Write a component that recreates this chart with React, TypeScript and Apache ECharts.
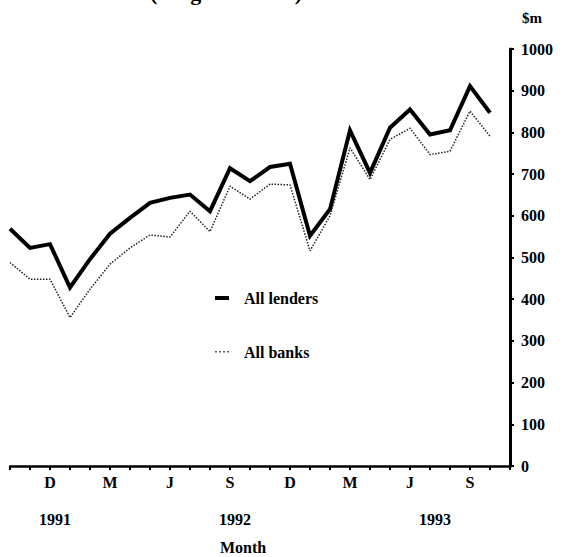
import React, { useEffect, useRef } from "react";
import * as echarts from "echarts";

const months = [
  "Oct 1991", "Nov 1991", "Dec 1991",
  "Jan 1992", "Feb 1992", "Mar 1992", "Apr 1992", "May 1992", "Jun 1992",
  "Jul 1992", "Aug 1992", "Sep 1992", "Oct 1992", "Nov 1992", "Dec 1992",
  "Jan 1993", "Feb 1993", "Mar 1993", "Apr 1993", "May 1993", "Jun 1993",
  "Jul 1993", "Aug 1993", "Sep 1993", "Oct 1993", "Nov 1993",
];
const monthTickLetters: Record<string, string> = { Dec: "D", Mar: "M", Jun: "J", Sep: "S" };

const allLenders = [
  569, 523, 532, 428, 496, 557, 595, 631, 643, 651, 611, 714, 683, 717, 725,
  552, 616, 805, 703, 811, 855, 795, 805, 911, 847,
];
const allBanks = [
  488, 448, 448, 356, 424, 484, 523, 554, 549, 611, 562, 671, 640, 676, 674,
  516, 600, 763, 687, 783, 810, 747, 755, 851, 791,
];

const yearLabels = ["1991", "1992", "1993"];
const yearAnchors = ["Dec 1991", "Sep 1992", "Jul 1993"];

const FONT = "Liberation Serif";

export default function App() {
  const ref = useRef<HTMLDivElement>(null);
  useEffect(() => {
    document.body.style.margin = "0";
    const chart = echarts.init(ref.current!, null, { renderer: "svg" });
    const option: any = {
      animation: false,
      backgroundColor: "#fff",
      textStyle: { fontFamily: FONT, color: "#000" },
      grid: { left: 10, right: 74, top: 49, bottom: 91, containLabel: false },
      legend: {
        orient: "vertical",
        left: 210,
        top: 285,
        itemGap: 38,
        itemWidth: 14,
        itemHeight: 4,
        textStyle: { fontFamily: FONT, fontSize: 16, fontWeight: "bold", color: "#000", padding: [0, 0, 0, 10] },
        data: [
          { name: "All lenders", icon: "rect", itemStyle: { color: "#000" } },
          {
            name: "All banks",
            icon: "path://M0,1h1.6v1.6h-1.6z M4,1h1.6v1.6h-1.6z M8,1h1.6v1.6h-1.6z M12,1h1.6v1.6h-1.6z M0,0h0.01v4h-0.01z",
            itemStyle: { color: "#333" },
          },
        ],
      },
      xAxis: {
        type: "category",
        data: months,
        boundaryGap: false,
        axisLine: { show: true, lineStyle: { color: "#000", width: 2.5 } },
        axisTick: { show: true, interval: 0, length: 4, lineStyle: { color: "#000", width: 2 } },
        axisLabel: {
          interval: 0,
          margin: 8,
          fontFamily: FONT,
          fontSize: 16,
          fontWeight: "bold",
          color: "#000",
          formatter: (v: string) => monthTickLetters[v.slice(0, 3)] || "",
        },
        splitLine: { show: false },
      },
      yAxis: {
        type: "value",
        position: "right",
        min: 0,
        max: 1000,
        interval: 100,
        name: "$m",
        nameLocation: "end",
        nameGap: 24,
        nameTextStyle: { fontFamily: FONT, fontSize: 15, fontWeight: "bold", color: "#000", align: "left", padding: [0, 0, 0, 12] },
        axisLine: { show: true, lineStyle: { color: "#000", width: 3 } },
        axisTick: { show: true, length: 4, lineStyle: { color: "#000", width: 2 } },
        axisLabel: {
          margin: 11,
          fontFamily: FONT,
          fontSize: 16,
          fontWeight: "bold",
          color: "#000",
          formatter: (v: number) => String(v),
        },
        splitLine: { show: false },
      },
      series: [
        {
          name: "All lenders",
          type: "line",
          data: allLenders,
          symbol: "none",
          lineStyle: { color: "#000", width: 4, join: "miter" },
          itemStyle: { color: "#000" },
        },
        {
          name: "All banks",
          type: "line",
          data: allBanks,
          symbol: "none",
          lineStyle: { color: "#222", width: 1.5, type: "dotted" },
          itemStyle: { color: "#222" },
        },
      ],
    };
    chart.setOption(option);

    const gridBottomY = chart.convertToPixel({ yAxisIndex: 0 }, 0) as number;
    const yearTexts = yearLabels.map((label, i) => {
      const x = chart.convertToPixel({ xAxisIndex: 0 }, yearAnchors[i]) as number;
      return {
        type: "text",
        left: x + 9 - 20,
        top: gridBottomY + 45,
        style: { text: label, fontFamily: FONT, fontSize: 16, fontWeight: "bold", fill: "#000" },
      };
    });
    chart.setOption({
      graphic: [
        ...yearTexts,
        {
          type: "text",
          left: 220,
          top: gridBottomY + 73,
          style: { text: "Month", fontFamily: FONT, fontSize: 16, fontWeight: "bold", fill: "#000" },
        },
        {
          type: "text",
          x: 150,
          y: -19,
          style: { text: "(Original series)", fontFamily: FONT, fontSize: 22, fontWeight: "bold", fill: "#000" },
        },
      ],
    });
    return () => chart.dispose();
  }, []);
  return <div ref={ref} style={{ position: "fixed", left: 0, top: 0, width: 584, height: 557 }} />;
}
